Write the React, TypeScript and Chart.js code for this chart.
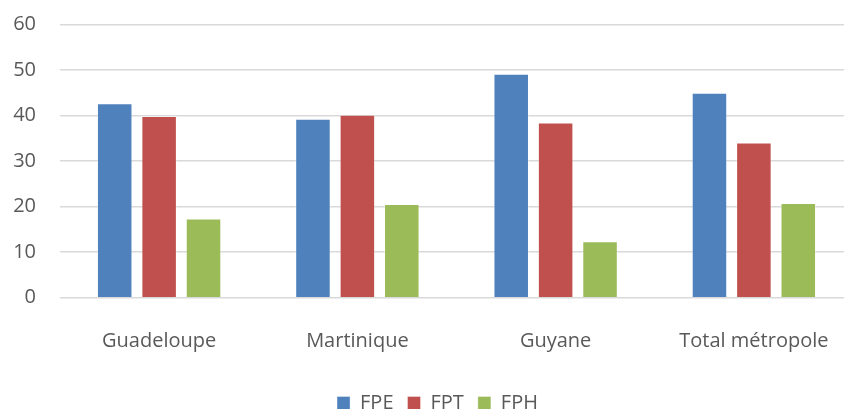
import React, { useEffect, useRef } from "react";
import { Chart, registerables } from "chart.js";

Chart.register(...registerables);

const categories = ["Guadeloupe", "Martinique", "Guyane", "Total métropole"];
const seriesNames = ["FPE", "FPT", "FPH"];
const fpe = [42.7, 39.3, 49.2, 45.0];
const fpt = [39.9, 40.2, 38.5, 34.1];
const fph = [17.4, 20.6, 12.4, 20.8];
const colors = ["#4F81BD", "#C0504D", "#9BBB59"];
const yMin = 0;
const yMax = 60;
const yStep = 10;

const FONT = "'Open Sans', sans-serif";
const TEXT = "#595959";

const legendShift = {
  id: "legendShift",
  afterLayout(chart: any) {
    const l = chart.legend;
    if (!l) return;
    l.left += 11;
    l.right += 11;
  },
};

export default function App() {
  const ref = useRef<HTMLCanvasElement | null>(null);

  useEffect(() => {
    const canvas = ref.current;
    if (!canvas) return;
    const values = [fpe, fpt, fph];
    const chart = new Chart(canvas, {
      type: "bar",
      data: {
        labels: categories,
        datasets: seriesNames.map((name, i) => ({
          label: name,
          data: values[i],
          backgroundColor: colors[i],
          borderColor: "rgba(255,255,255,0.35)",
          borderWidth: 1,
          categoryPercentage: 0.672,
          barPercentage: 0.8,
        })),
      },
      plugins: [legendShift],
      options: {
        responsive: false,
        animation: false,
        devicePixelRatio: 1,
        layout: { padding: { top: 24.5, left: 0, right: 0, bottom: -14 } },
        plugins: {
          tooltip: { enabled: false },
          legend: {
            position: "bottom",
            labels: {
              boxWidth: 13,
              boxHeight: 13,
              padding: 14,
              color: TEXT,
              font: { family: FONT, size: 20 },
            },
          },
        },
        scales: {
          x: {
            afterFit: (s: any) => {
              s.height = 81.3;
              s.paddingLeft = 0;
              s.paddingRight = 0;
            },
            grid: { display: false, drawTicks: false },
            border: { display: false },
            ticks: {
              color: TEXT,
              font: { family: FONT, size: 20 },
              padding: 32,
            },
          },
          y: {
            min: yMin,
            max: yMax,
            afterFit: (s: any) => {
              s.width = 60;
              s.paddingTop = 0;
              s.paddingBottom = 0;
            },
            grid: { color: "#D9D9D9", lineWidth: 1.5, drawTicks: false },
            border: { display: false },
            ticks: {
              stepSize: yStep,
              color: TEXT,
              font: { family: FONT, size: 20 },
              padding: 24,
            },
          },
        },
      },
    });
    return () => chart.destroy();
  }, []);

  return (
    <div
      style={{
        position: "fixed",
        left: 0,
        top: 0,
        width: 844,
        height: 409,
        overflow: "hidden",
        background: "#fff",
      }}
    >
      <canvas ref={ref} width={853} height={409} style={{ display: "block" }} />
    </div>
  );
}
